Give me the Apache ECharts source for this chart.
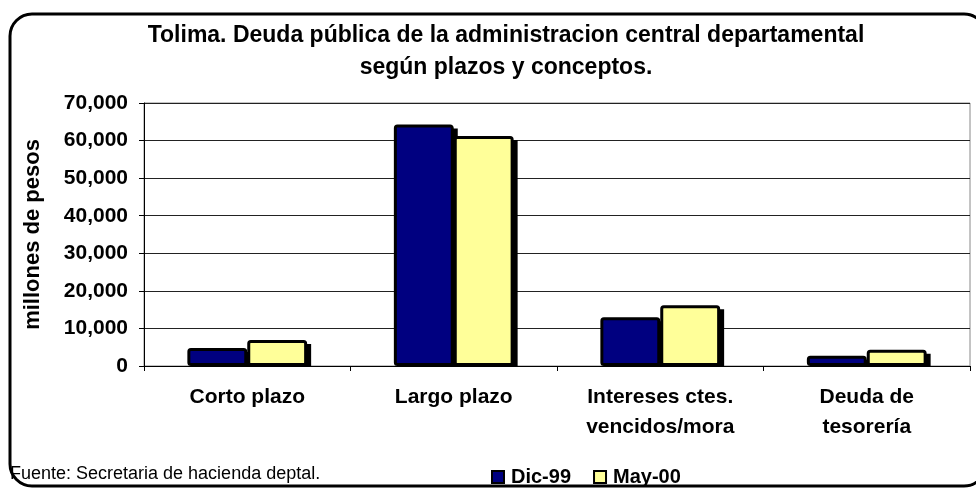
<!DOCTYPE html>
<html>
<head>
<meta charset="utf-8">
<script src="https://cdn.jsdelivr.net/npm/echarts@6/dist/echarts.min.js"></script>
<style>
  html, body { margin: 0; padding: 0; background: #fff; }
  #chart { width: 976px; height: 490px; }
</style>
</head>
<body>
<div id="chart"></div>
<script>
// categorias y valores (millones de pesos)
const categorias = ['Corto plazo', 'Largo plazo', 'Intereses ctes.\nvencidos/mora', 'Deuda de\ntesorería']
const dic99 = [4800, 64300, 13000, 2700]
const may00 = [6900, 61200, 16200, 4300]
const yTicks = [0, 10000, 20000, 30000, 40000, 50000, 60000, 70000]

const FONT = 'Liberation Sans, Arial, sans-serif'
const GAP = 0.42 // barCategoryGap

const chart = echarts.init(document.getElementById('chart'))

// sombra negra a la derecha/abajo de cada barra, como en Excel
function renderShadow (params, api) {
  const idx = api.value(0)
  const base = api.coord([idx, 0])
  const band = api.size([1, 0])[0]
  const barW = band * (1 - GAP) / 2
  const children = []
  ;[api.value(1), api.value(2)].forEach((v, i) => {
    const top = api.coord([idx, v])[1]
    const x0 = base[0] - barW + i * barW
    children.push({
      type: 'rect',
      shape: { x: x0 + 4, y: top + 4, width: barW, height: Math.max(0, base[1] - top - 3) },
      style: { fill: '#000' }
    })
  })
  return { type: 'group', children }
}

const option = {
  backgroundColor: '#fff',
  animation: false,
  title: {
    text: 'Tolima. Deuda pública de la administracion central departamental\nsegún plazos y conceptos.',
    left: 501,
    top: 15,
    textAlign: 'center',
    textStyle: {
      fontFamily: FONT,
      fontWeight: 'bold',
      fontSize: 23,
      lineHeight: 32,
      color: '#000'
    }
  },
  legend: {
    data: ['Dic-99', 'May-00'],
    left: 486,
    top: 462,
    icon: 'rect',
    itemWidth: 12,
    itemHeight: 12,
    itemGap: 22,
    itemStyle: { borderWidth: 2, borderColor: '#000' },
    textStyle: {
      fontFamily: FONT,
      fontWeight: 'bold',
      fontSize: 20,
      color: '#000',
      padding: [0, 0, 0, 2]
    }
  },
  grid: {
    left: 144,
    right: 6,
    top: 103,
    bottom: 124,
    show: true,
    borderColor: '#888',
    borderWidth: 1
  },
  xAxis: {
    type: 'category',
    data: categorias,
    axisLine: { lineStyle: { color: '#000', width: 1 } },
    axisTick: { show: true, length: 5, lineStyle: { color: '#000' } },
    axisLabel: {
      margin: 16,
      fontFamily: FONT,
      fontWeight: 'bold',
      fontSize: 21,
      lineHeight: 30,
      color: '#000'
    }
  },
  yAxis: {
    type: 'value',
    min: yTicks[0],
    max: yTicks[yTicks.length - 1],
    interval: 10000,
    name: 'millones de pesos',
    nameLocation: 'middle',
    nameGap: 100,
    nameTextStyle: {
      fontFamily: FONT,
      fontWeight: 'bold',
      fontSize: 22,
      color: '#000'
    },
    axisLine: { show: true, lineStyle: { color: '#000', width: 1 } },
    axisTick: { show: true, length: 5, lineStyle: { color: '#000' } },
    splitLine: { lineStyle: { color: '#222', width: 1 } },
    axisLabel: {
      margin: 16,
      fontFamily: FONT,
      fontWeight: 'bold',
      fontSize: 21,
      color: '#000',
      formatter: v => v.toLocaleString('en-US')
    }
  },
  series: [
    {
      type: 'custom',
      silent: true,
      z: 1,
      renderItem: renderShadow,
      encode: { x: 0, y: [1, 2] },
      data: categorias.map((c, i) => [i, dic99[i], may00[i]])
    },
    {
      name: 'Dic-99',
      type: 'bar',
      z: 2,
      data: dic99,
      barGap: '0%',
      barCategoryGap: (GAP * 100) + '%',
      itemStyle: {
        color: '#000080',
        borderColor: '#000',
        borderWidth: 3,
        borderRadius: 2
      }
    },
    {
      name: 'May-00',
      type: 'bar',
      z: 2,
      data: may00,
      itemStyle: {
        color: '#ffff99',
        borderColor: '#000',
        borderWidth: 3,
        borderRadius: 2
      }
    }
  ],
  graphic: [
    {
      type: 'rect',
      shape: { x: 10, y: 14, width: 976, height: 472, r: 22 },
      style: { fill: 'none', stroke: '#000', lineWidth: 3 },
      silent: true,
      z: 100
    },
    {
      type: 'text',
      left: 10,
      top: 465,
      style: {
        text: 'Fuente: Secretaria de hacienda deptal.',
        fontFamily: FONT,
        fontSize: 18,
        fill: '#000'
      }
    }
  ]
}
chart.setOption(option)
</script>
</body>
</html>
